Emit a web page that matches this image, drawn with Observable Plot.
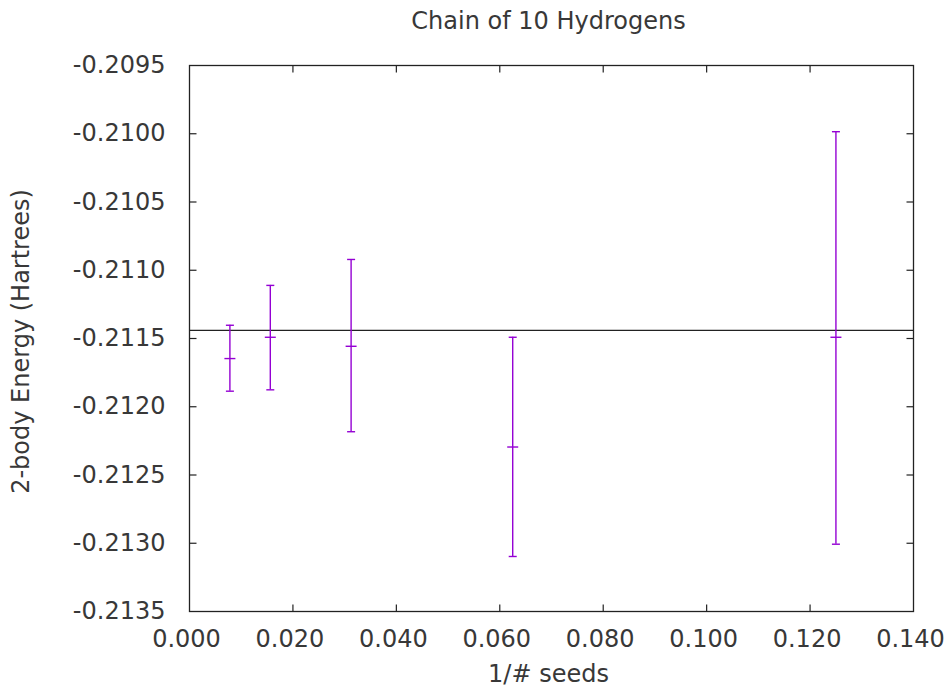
<!DOCTYPE html>
<html>
<head>
<meta charset="utf-8">
<script src="https://cdn.jsdelivr.net/npm/d3@7"></script>
<script src="https://cdn.jsdelivr.net/npm/@observablehq/plot@0.6"></script>
<style>
  html, body { margin: 0; padding: 0; background: #fff; }
  #chart svg { font-family: "DejaVu Sans", sans-serif; }
</style>
</head>
<body>
<div id="chart"></div>
<script>
// ---- data ----
const title = "Chain of 10 Hydrogens";
const xLabel = "1/# seeds";
const yLabel = "2-body Energy (Hartrees)";
const invSeeds = [0.0078125, 0.015625, 0.03125, 0.0625, 0.125];
const energies = [-0.211647, -0.211491, -0.211557, -0.212295, -0.211491];
const energyLow = [-0.211886, -0.211876, -0.212183, -0.213097, -0.213007];
const energyHigh = [-0.211403, -0.211111, -0.210921, -0.211491, -0.209985];
const referenceEnergy = -0.21144;
const xTicks = [0, 0.02, 0.04, 0.06, 0.08, 0.10, 0.12, 0.14];
const yTicks = [-0.2135, -0.2130, -0.2125, -0.2120, -0.2115, -0.2110, -0.2105, -0.2100, -0.2095];

const points = invSeeds.map((x, i) => ({x, y: energies[i], lo: energyLow[i], hi: energyHigh[i]}));
const xDomain = [xTicks[0], xTicks[xTicks.length - 1]];
const yDomain = [yTicks[0], yTicks[yTicks.length - 1]];

const violet = "#9400d3";
const ink = "#383838";
const fs = 24;
const tickLen = 7;

const hSeg = (w) => ({draw(ctx) { ctx.moveTo(-w / 2, 0); ctx.lineTo(w / 2, 0); }});
const vTick = (dir) => ({draw(ctx) { ctx.moveTo(0, 0); ctx.lineTo(0, dir * tickLen); }});
const hTick = (dir) => ({draw(ctx) { ctx.moveTo(0, 0); ctx.lineTo(dir * tickLen, 0); }});

const chart = Plot.plot({
  width: 947,
  height: 689,
  marginLeft: 189,
  marginRight: 34,
  marginTop: 65,
  marginBottom: 78,
  style: {fontSize: fs + "px", fontFamily: "DejaVu Sans, sans-serif", color: ink, background: "#fff"},
  x: {domain: xDomain},
  y: {domain: yDomain},
  marks: [
    // reference line
    Plot.ruleY([referenceEnergy], {stroke: "#222", strokeWidth: 1.3}),
    // error bars
    Plot.ruleX(points, {x: "x", y1: "lo", y2: "hi", stroke: violet, strokeWidth: 1.4}),
    Plot.dot(points, {x: "x", y: "lo", symbol: hSeg(8), r: 4, fill: "none", stroke: violet, strokeWidth: 1.4}),
    Plot.dot(points, {x: "x", y: "hi", symbol: hSeg(8), r: 4, fill: "none", stroke: violet, strokeWidth: 1.4}),
    Plot.dot(points, {x: "x", y: "y", symbol: hSeg(11), r: 4, fill: "none", stroke: violet, strokeWidth: 1.4}),
    // inward ticks (all four sides)
    Plot.dot(xTicks.slice(1, -1), {x: d => d, y: () => yDomain[0], symbol: vTick(-1), r: 4, fill: "none", stroke: "#222", strokeWidth: 1.2}),
    Plot.dot(xTicks.slice(1, -1), {x: d => d, y: () => yDomain[1], symbol: vTick(1), r: 4, fill: "none", stroke: "#222", strokeWidth: 1.2}),
    Plot.dot(yTicks.slice(1, -1), {y: d => d, x: () => xDomain[0], symbol: hTick(1), r: 4, fill: "none", stroke: "#222", strokeWidth: 1.2}),
    Plot.dot(yTicks.slice(1, -1), {y: d => d, x: () => xDomain[1], symbol: hTick(-1), r: 4, fill: "none", stroke: "#222", strokeWidth: 1.2}),
    // axes labels
    Plot.axisX({ticks: xTicks, tickFormat: d => d.toFixed(3), tickSize: 0, tickPadding: 18, dx: -3, label: null, fontSize: fs, fill: ink}),
    Plot.axisY({ticks: yTicks, tickFormat: d => d.toFixed(4), tickSize: 0, tickPadding: 24, label: null, fontSize: fs, fill: ink}),
    Plot.frame({stroke: "#222", strokeWidth: 1.3}),
    Plot.text([title], {frameAnchor: "top", lineAnchor: "middle", textAnchor: "middle", dx: -3, dy: -44.5, fontSize: fs, fill: ink}),
    Plot.text([xLabel], {frameAnchor: "bottom", lineAnchor: "middle", textAnchor: "middle", dx: -3, dy: 63, fontSize: fs, fill: ink}),
    Plot.text([yLabel], {frameAnchor: "left", lineAnchor: "middle", textAnchor: "middle", dx: -168, dy: 3, rotate: -90, fontSize: fs, fill: ink})
  ]
});
document.getElementById("chart").appendChild(chart);
</script>
</body>
</html>
